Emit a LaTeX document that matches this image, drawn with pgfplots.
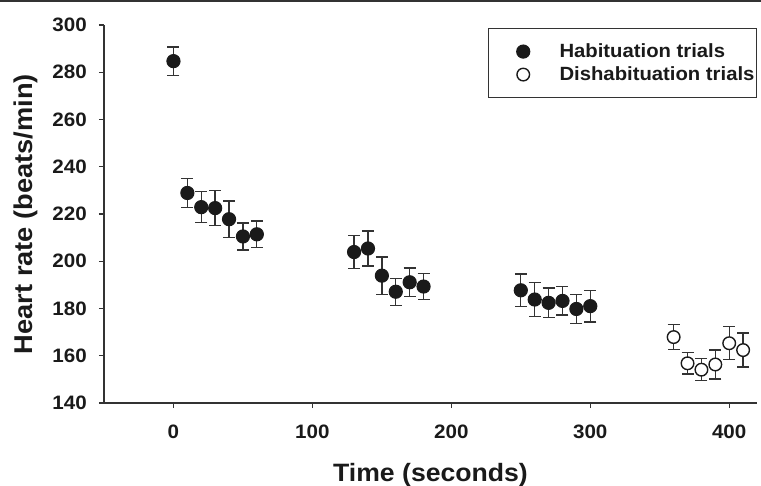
\documentclass[border=0pt]{standalone}
\usepackage{fontspec}
\setmainfont{Liberation Sans}[FakeStretch=1.06]
\usepackage{pgfplots}
\pgfplotsset{compat=1.18}
\definecolor{Ink}{HTML}{1A1A1A}
\definecolor{Spine}{HTML}{333333}

\pgfplotstableread{
x y e
0 284.7 6.0
10 228.9 6.2
20 222.9 6.5
30 222.5 7.5
40 217.8 7.7
50 210.5 5.7
60 211.4 5.7
130 203.9 6.9
140 205.4 7.4
150 193.9 7.9
160 187.1 5.7
170 191.1 6.0
180 189.3 5.4
250 187.7 6.9
260 183.8 7.3
270 182.4 6.3
280 183.2 6.0
290 179.8 6.1
300 181.0 6.7
}\habituation

\pgfplotstableread{
x y e
360 167.9 5.3
370 156.8 4.5
380 154.1 4.7
390 156.3 6.1
400 165.3 7.0
410 162.4 7.2
}\dishabituation

\begin{document}
\begin{tikzpicture}
\useasboundingbox (0,0) rectangle (761bp,486bp);
\draw[line width=2bp,Spine] (0,485bp) -- (761bp,485bp);
\begin{axis}[
  at={(104bp,83bp)},anchor=south west,
  scale only axis,width=653bp,height=378bp,
  xmin=-50,xmax=420,ymin=140,ymax=300,
  axis x line*=bottom,axis y line*=left,
  axis line style={Spine,line width=1.3bp},
  tick style={Spine,line width=1.3bp},
  tick align=outside,major tick length=5bp,
  xtick={0,100,200,300,400},
  ytick={140,160,...,300},
  /pgf/number format/assume math mode=true,
  tick label style={font=\fontsize{19.5}{23}\selectfont\bfseries,text=Ink},
  yticklabel style={inner sep=0pt,xshift=-12bp},
  xticklabel style={inner sep=0pt,yshift=-17bp},
  xlabel={Time (seconds)},
  ylabel={Heart rate (beats/min)},
  xlabel style={at={(axis description cs:0.5,-0.2082)},anchor=base,inner sep=0pt,
    font=\fontsize{25.2}{30}\selectfont\bfseries,text=Ink},
  ylabel style={at={(axis description cs:-0.139,0.5)},anchor=north,inner sep=0pt,
    font=\fontsize{25.8}{30}\selectfont\bfseries,text=Ink},
  clip=false,
  legend style={at={(1,0.992)},anchor=north east,draw=Spine,line width=1.1bp,
    font=\fontsize{19.2}{23}\selectfont\bfseries,text=Ink,
    inner xsep=2bp,inner ysep=11.5bp,row sep=0pt,column sep=0pt,
    nodes={inner sep=0pt,anchor=west}},
  legend cell align=left,
  legend image code/.code={\path[draw=none,fill=none] (0bp,-11.5bp) rectangle (69bp,11.5bp);
    \draw[#1] plot coordinates {(32.7bp,0bp)};},
]
\addplot+[only marks,mark=*,mark size=6.6bp,
  mark options={fill=Ink,draw=Ink,line width=1bp},
  error bars/.cd,y dir=both,y explicit,
  error bar style={Spine,line width=1.3bp},
  error mark options={Spine,line width=1.3bp,mark size=6bp,rotate=90}]
  table[x=x,y=y,y error=e] {\habituation};
\addlegendentry{Habituation trials}
\addplot+[only marks,mark=*,mark size=6.3bp,
  mark options={fill=white,draw=Ink,line width=1.4bp},
  error bars/.cd,y dir=both,y explicit,
  error bar style={Spine,line width=1.3bp},
  error mark options={Spine,line width=1.3bp,mark size=6bp,rotate=90}]
  table[x=x,y=y,y error=e] {\dishabituation};
\addlegendentry{Dishabituation trials}
\end{axis}
\end{tikzpicture}
\end{document}
